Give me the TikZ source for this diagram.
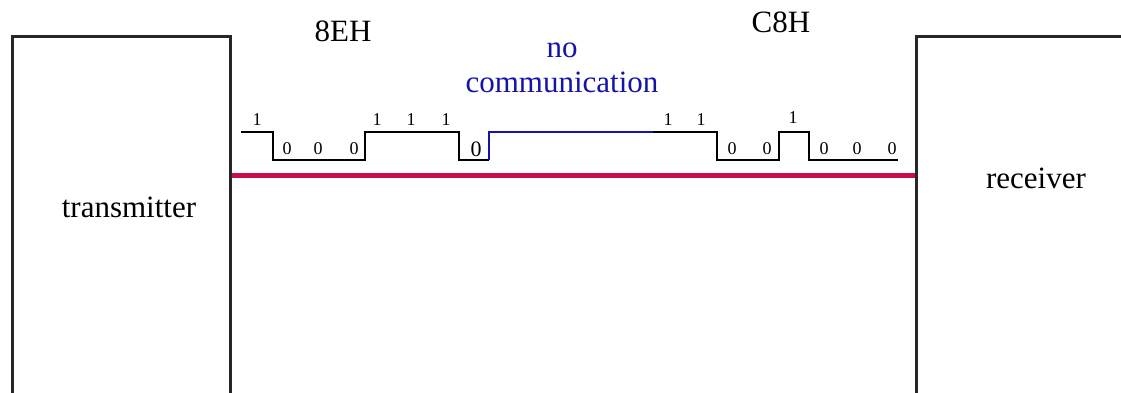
\documentclass[tikz,border=0pt]{standalone}
\usepackage{fontspec}
\setmainfont{Liberation Serif}
\definecolor{busred}{RGB}{200,12,78}
\definecolor{idleblue}{RGB}{20,20,170}
\begin{document}
\begin{tikzpicture}[x=1pt,y=-1pt,
  unitbox/.style={draw=black!85,line width=3pt,rectangle,anchor=north west,inner sep=0pt},
  bus/.style={draw=busred,line width=5pt},
  wave/.style={draw=black,line width=2pt},
  idle/.style={draw=idleblue,line width=2pt},
  caption/.style={anchor=base,inner sep=0pt,font=\fontsize{31}{36}\selectfont},
  bluecap/.style={caption,text=idleblue},
  bit/.style={anchor=base,inner sep=0pt,font=\fontsize{18}{20}\selectfont},
  bigbit/.style={anchor=base,inner sep=0pt,font=\fontsize{22}{24}\selectfont}]
\useasboundingbox (0,0) rectangle (1121,393);

% transmitter and receiver blocks (open towards the bottom)
\node[unitbox,minimum width=218pt,minimum height=400pt] (tx) at (11,35) {};
\node[unitbox,minimum width=240pt,minimum height=400pt] (rx) at (915,35) {};
\node[caption] (txlabel) at (129,217) {transmitter};
\node[caption] (rxlabel) at (1036,188) {receiver};

% serial line
\draw[bus] ([yshift=-140pt]tx.north east) -- ([yshift=-140pt]rx.north west);

% bit stream: 8EH, idle gap, C8H
\draw[wave] (241,132) -- (273,132) -- (273,160) -- (365,160) -- (365,132)
  -- (459,132) -- (459,160) -- (489,160);
\draw[idle] (489,160) -- (489,132) -- (653,132);
\draw[wave] (653,132) -- (717,132) -- (717,160) -- (779,160) -- (779,132)
  -- (809,132) -- (809,160) -- (898,160);

% bit values of 8EH
\node[bit] (b1) at (257,126) {1};
\node[bit] (b2) at (287,154) {0};
\node[bit] (b3) at (318,154) {0};
\node[bit] (b4) at (354,154) {0};
\node[bit] (b5) at (377,126) {1};
\node[bit] (b6) at (411,126) {1};
\node[bit] (b7) at (446,126) {1};
\node[bigbit] (b8) at (476,156) {0};

% bit values of C8H
\node[bit] (c1) at (668,125) {1};
\node[bit] (c2) at (701,125) {1};
\node[bit] (c3) at (732,154) {0};
\node[bit] (c4) at (767,154) {0};
\node[bit] (c5) at (793,124) {1};
\node[bit] (c6) at (824,154) {0};
\node[bit] (c7) at (857,154) {0};
\node[bit] (c8) at (892,154) {0};

% captions above the stream
\node[caption] (first) at (343,42) {8EH};
\node[caption] (second) at (781,33) {C8H};
\node[bluecap] (gap1) at (562,58) {no};
\node[bluecap] (gap2) at (562,93) {communication};
\end{tikzpicture}
\end{document}
